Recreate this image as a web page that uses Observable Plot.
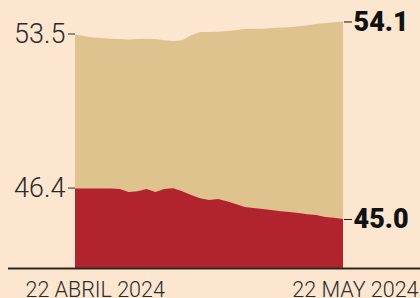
<!DOCTYPE html>
<html><head><meta charset="utf-8">
<script src="https://cdn.jsdelivr.net/npm/d3@7"></script>
<script src="https://cdn.jsdelivr.net/npm/@observablehq/plot@0.6"></script>
<style>
html,body{margin:0;padding:0;background:#fde6d0;overflow:hidden;}
</style></head><body><div id="chart"></div>
<script>
const dates = ["2024-04-22","2024-04-23","2024-04-24","2024-04-25","2024-04-26","2024-04-27","2024-04-28","2024-04-29","2024-04-30","2024-05-01","2024-05-02","2024-05-03","2024-05-04","2024-05-05","2024-05-06","2024-05-07","2024-05-08","2024-05-09","2024-05-10","2024-05-11","2024-05-12","2024-05-13","2024-05-14","2024-05-15","2024-05-16","2024-05-17","2024-05-18","2024-05-19","2024-05-20","2024-05-21","2024-05-22"];
const tanValues = [53.5,53.43,53.36,53.34,53.31,53.29,53.27,53.29,53.31,53.29,53.24,53.2,53.24,53.47,53.61,53.61,53.63,53.66,53.7,53.75,53.77,53.77,53.8,53.82,53.84,53.88,53.93,53.98,54.03,54.07,54.1];
const redValues = [46.4,46.4,46.4,46.4,46.4,46.38,46.24,46.28,46.38,46.24,46.38,46.42,46.28,46.1,45.96,45.87,45.92,45.82,45.69,45.55,45.5,45.46,45.41,45.36,45.32,45.27,45.22,45.18,45.09,45.06,45.0];
const leftTicks = [53.5, 46.4];
const rightTicks = [54.1, 45.0];
const dateLabels = ["22 ABRIL 2024", "22 MAY 2024"];
const yBase = 42.74;
const yTop = 55.09;

const data = dates.map((d, i) => ({date: new Date(d), tan: tanValues[i], red: redValues[i]}));
const first = data[0].date, last = data[data.length - 1].date;

const chart = Plot.plot({
  width: 420, height: 298,
  marginLeft: 75, marginRight: 77, marginTop: 0, marginBottom: 30,
  style: {background: "#fde6d0", fontFamily: "Roboto, 'Liberation Sans', sans-serif", overflow: "visible", color: "#222"},
  x: {type: "utc", domain: [first, last], axis: null},
  y: {domain: [yBase, yTop]},
  marks: [
    Plot.areaY(data, {x: "date", y1: yBase, y2: "tan", fill: "#dfc38f"}),
    Plot.areaY(data, {x: "date", y1: yBase, y2: "red", fill: "#b1242d"}),
    Plot.ruleY([yBase], {stroke: "#2b2623", strokeWidth: 2, insetLeft: -67, insetRight: -77}),
    Plot.axisY({anchor: "left", ticks: leftTicks, tickFormat: ".1f", tickSize: 7, tickPadding: 3, fontSize: 27, fontWeight: 300, color: "#2a2a2a", label: null, dy: -1}),
    Plot.axisY({anchor: "right", ticks: rightTicks, tickFormat: ".1f", tickSize: 8, tickPadding: 2, fontSize: 27, fontWeight: 900, color: "#111", label: null}),
    Plot.text([{label: dateLabels[0], date: first}], {x: "date", text: "label", frameAnchor: "bottom", dy: 28, dx: -50, textAnchor: "start", fontSize: 21.5, fontWeight: 300, fill: "#2a2a2a"}),
    Plot.text([{label: dateLabels[1], date: last}], {x: "date", text: "label", frameAnchor: "bottom", dy: 28, dx: 75, textAnchor: "end", fontSize: 21.5, fontWeight: 300, fill: "#2a2a2a"})
  ]
});
document.getElementById("chart").append(chart);
</script></body></html>
